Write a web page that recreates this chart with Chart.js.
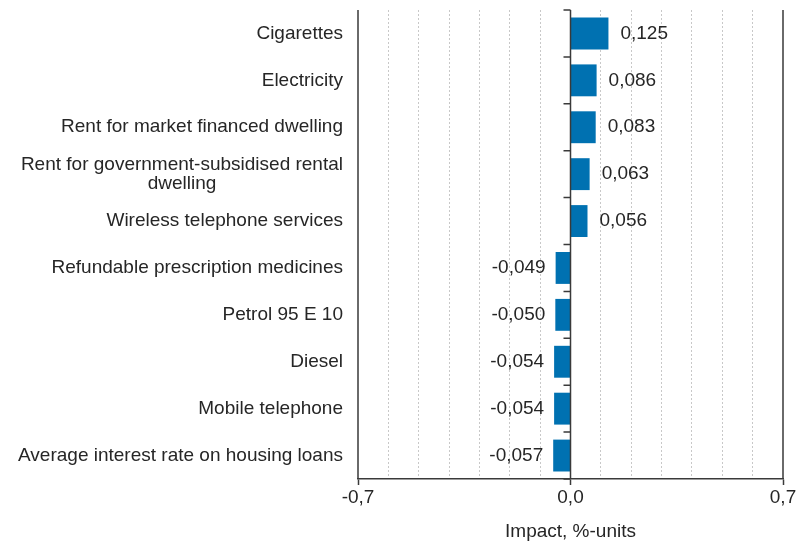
<!DOCTYPE html>
<html>
<head>
<meta charset="utf-8">
<script src="https://cdn.jsdelivr.net/npm/chart.js@4.4.1/dist/chart.umd.min.js"></script>
<style>
	html, body { margin: 0; padding: 0; background: #fff; }
	#wrap { width: 796px; height: 545px; }
</style>
</head>
<body>
<div id="wrap"><canvas id="chart"></canvas></div>
<script>
// Items with the largest impact on the annual change, %-units
const categories = [
	"Cigarettes",
	"Electricity",
	"Rent for market financed dwelling",
	["Rent for government-subsidised rental", "dwelling"],
	"Wireless telephone services",
	"Refundable prescription medicines",
	"Petrol 95 E 10",
	"Diesel",
	"Mobile telephone",
	"Average interest rate on housing loans",
];
const impact = [0.125, 0.086, 0.083, 0.063, 0.056, -0.049, -0.05, -0.054, -0.054, -0.057];
const xTickLabels = [-0.7, 0, 0.7];
const axisTitle = "Impact, %-units";

const FONT = { family: "'Liberation Sans', Arial, sans-serif", size: 19, lineHeight: 1.0 };
const TEXT = "#262626";
const AXIS = "#3a3a3a";
const BLUE = "#0071b1";

const fmt = (v, d) => v.toFixed(d).replace(".", ",");
const isLabelled = (v) => xTickLabels.some((t) => Math.abs(t - v) < 1e-9);

// pad shorter lines of a wrapped label with nbsp so they sit centred under the longest one
function centreLines(label) {
	if (!Array.isArray(label)) return label;
	const ctx = document.createElement("canvas").getContext("2d");
	ctx.font = `${FONT.size}px ${FONT.family}`;
	const widths = label.map((l) => ctx.measureText(l).width);
	const max = Math.max(...widths);
	const nb = ctx.measureText("\u00a0").width;
	return label.map((l, i) => l + "\u00a0".repeat(Math.round((max - widths[i]) / 2 / nb)));
}

// zero axis with category ticks, solid outer lines, value labels
const decorations = {
	id: "decorations",
	afterDatasetsDraw(chart) {
		const { ctx, chartArea: a, scales: { x, y } } = chart;
		ctx.save();
		ctx.strokeStyle = AXIS;
		ctx.lineWidth = 1.5;
		const x0 = x.getPixelForValue(0);
		ctx.beginPath();
		ctx.moveTo(x0, a.top);
		ctx.lineTo(x0, a.bottom);
		[-0.7, 0.7].forEach((v) => {
			const px = x.getPixelForValue(v);
			ctx.moveTo(px, a.top);
			ctx.lineTo(px, a.bottom);
		});
		const step = (y.getPixelForValue(1) - y.getPixelForValue(0));
		for (let i = 0; i <= categories.length; i++) {
			const py = y.getPixelForValue(i) - step / 2;
			ctx.moveTo(x0 - 7, py);
			ctx.lineTo(x0, py);
		}
		ctx.stroke();

		ctx.fillStyle = TEXT;
		ctx.font = `${FONT.size}px ${FONT.family}`;
		ctx.textBaseline = "middle";
		chart.getDatasetMeta(0).data.forEach((bar, i) => {
			const v = impact[i];
			if (v >= 0) {
				ctx.textAlign = "left";
				ctx.fillText(fmt(v, 3), bar.x + 12, bar.y);
			} else {
				ctx.textAlign = "right";
				ctx.fillText(fmt(v, 3), bar.x - 10, bar.y);
			}
		});
		ctx.restore();
	},
};

new Chart(document.getElementById("chart"), {
	type: "bar",
	data: {
		labels: categories.map(centreLines),
		datasets: [
			{
				data: impact,
				backgroundColor: BLUE,
				borderWidth: 0,
				categoryPercentage: 1,
				barPercentage: 0.68,
			},
		],
	},
	options: {
		indexAxis: "y",
		responsive: true,
		maintainAspectRatio: false,
		animation: false,
		layout: { padding: { top: 10, right: 13, bottom: 2, left: 10 } },
		scales: {
			x: {
				min: -0.7,
				max: 0.7,
				ticks: {
					stepSize: 0.1,
					autoSkip: false,
					maxRotation: 0,
					padding: 3,
					color: TEXT,
					font: FONT,
					callback: (v) => (isLabelled(v) ? fmt(Math.abs(v) < 1e-9 ? 0 : v, 1) : ""),
				},
				grid: {
					color: (c) => (isLabelled(c.tick.value) ? "rgba(0,0,0,0)" : "#c8c8c8"),
					lineWidth: 1,
					tickLength: 6,
					tickColor: (c) => (isLabelled(c.tick.value) ? AXIS : "rgba(0,0,0,0)"),
					tickWidth: 1.5,
				},
				border: { display: true, color: AXIS, width: 1.5, dash: [2, 2] },
				title: {
					display: true,
					text: axisTitle,
					color: TEXT,
					font: FONT,
					padding: { top: 8, bottom: 2 },
				},
				afterFit: (s) => {
					s.height = 64;
					s.paddingLeft = 0;
					s.paddingRight = 0;
				},
			},
			y: {
				ticks: { color: TEXT, font: FONT, padding: 7, autoSkip: false },
				grid: { display: false },
				border: { display: false },
				afterFit: (s) => {
					s.width = 348;
					s.paddingTop = 0;
					s.paddingBottom = 0;
				},
			},
		},
		plugins: {
			legend: { display: false },
			tooltip: { enabled: false },
		},
	},
	plugins: [decorations],
});
</script>
</body>
</html>
